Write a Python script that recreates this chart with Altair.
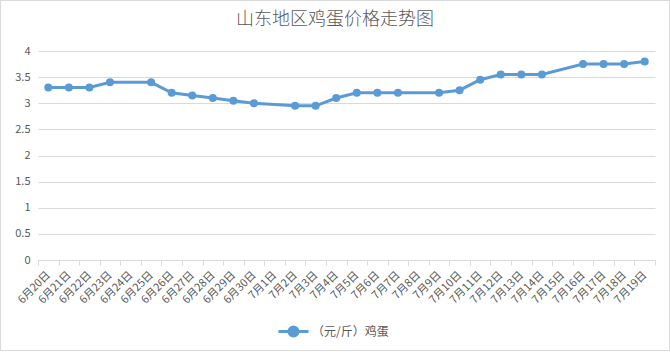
import altair as alt
import pandas as pd

dates = ["6月20日", "6月21日", "6月22日", "6月23日", "6月24日", "6月25日", "6月26日",
         "6月27日", "6月28日", "6月29日", "6月30日", "7月1日", "7月2日", "7月3日",
         "7月4日", "7月5日", "7月6日", "7月7日", "7月8日", "7月9日", "7月10日",
         "7月11日", "7月12日", "7月13日", "7月14日", "7月15日", "7月16日", "7月17日",
         "7月18日", "7月19日"]
prices = [3.3, 3.3, 3.3, 3.4, None, 3.4, 3.2,
          3.15, 3.1, 3.05, 3.0, None, 2.95, 2.95,
          3.1, 3.2, 3.2, 3.2, None, 3.2, 3.25,
          3.45, 3.55, 3.55, 3.55, None, 3.75, 3.75,
          3.75, 3.8]
series_name = "（元/斤）鸡蛋"
title_text = "山东地区鸡蛋价格走势图"
y_ticks = [0, 0.5, 1, 1.5, 2, 2.5, 3, 3.5, 4]

df = pd.DataFrame({"date": dates, "price": prices})
df["series"] = series_name
df = df.dropna()

FONT = "Noto Sans CJK SC"
BLUE = "#5b9bd5"
GRAY_TXT = "#595959"
GRID = "#d9d9d9"

x_enc = alt.X(
    "date:N",
    sort=dates,
    scale=alt.Scale(type="band", domain=dates, paddingInner=0, paddingOuter=0),
    bandPosition=0.5,
    axis=alt.Axis(
        title=None,
        labelAngle=315,
        labelAlign="right",
        labelBaseline="middle",
        labelFontSize=11,
        labelColor=GRAY_TXT,
        labelFont=FONT,
        labelPadding=8,
        tickBand="extent",
        tickSize=5,
        tickColor=GRID,
        domainColor=GRID,
        grid=False,
        labelOverlap=False,
    ),
)
y_enc = alt.Y(
    "price:Q",
    scale=alt.Scale(domain=[0, 4], nice=False),
    axis=alt.Axis(
        title=None,
        values=y_ticks,
        format="~g",
        labelFontSize=11,
        labelColor=GRAY_TXT,
        labelFont=FONT,
        labelPadding=8,
        ticks=False,
        domain=False,
        gridColor=GRID,
        gridWidth=1,
    ),
)

base = alt.Chart(df)

line = base.mark_line(color=BLUE, strokeWidth=3).encode(x=x_enc, y=y_enc)
points = base.mark_point(filled=True, size=64, opacity=1).encode(
    x=x_enc,
    y=y_enc,
    color=alt.Color(
        "series:N",
        scale=alt.Scale(range=[BLUE]),
        legend=alt.Legend(
            title=None,
            orient="none",
            legendX=239,
            legendY=264,
            labelFont=FONT,
            labelFontSize=12,
            labelColor=GRAY_TXT,
            symbolType="M-1,0L1,0M-0.3,0A0.3,0.3,0,1,1,0.3,0A0.3,0.3,0,1,1,-0.3,0Z",
            symbolSize=900,
            symbolStrokeColor=BLUE,
            symbolFillColor=BLUE,
            symbolStrokeWidth=3,
            symbolOpacity=1,
            labelOffset=2,
            padding=0,
        ),
    ),
)

border = alt.Chart(pd.DataFrame({"k": [1]})).mark_rect(
    fill="transparent", stroke=GRID, strokeWidth=1
).encode(
    x=alt.value(-37.5), x2=alt.value(631.5), y=alt.value(-50.5), y2=alt.value(299.5)
)

title = alt.Chart(pd.DataFrame({"t": [title_text]})).mark_text(
    font=FONT, fontSize=18, fontWeight=300, color=GRAY_TXT,
    align="center", baseline="middle"
).encode(text="t:N", x=alt.value(297), y=alt.value(-31))

chart = alt.layer(border, title, line, points).properties(
    width=617,
    height=209,
    autosize=alt.AutoSizeParams(type="none"),
    padding={"left": 38, "top": 51, "right": 15, "bottom": 92},
    background="white",
).configure_view(stroke="transparent")

chart.save("out.html", embed_options={"renderer": "svg", "actions": False})
